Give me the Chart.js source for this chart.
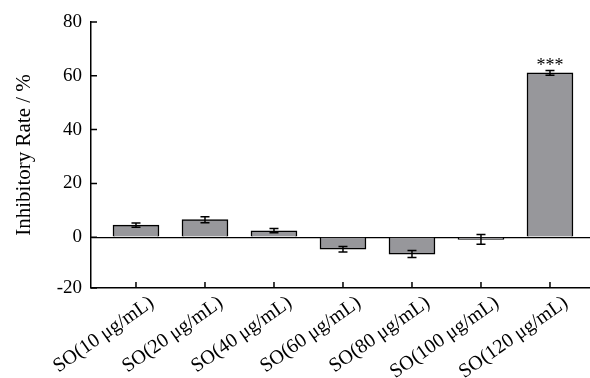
<!DOCTYPE html>
<html>
<head>
<meta charset="utf-8">
<script src="https://cdn.jsdelivr.net/npm/chart.js@4"></script>
<style>
  html, body { margin: 0; padding: 0; background: #fff; overflow: hidden; }
  canvas { display: block; }
</style>
</head>
<body>
<canvas id="inhibitionChart" width="590" height="378"></canvas>
<script>
// data
const categories = ['SO(10 μg/mL)', 'SO(20 μg/mL)', 'SO(40 μg/mL)', 'SO(60 μg/mL)', 'SO(80 μg/mL)', 'SO(100 μg/mL)', 'SO(120 μg/mL)'];
const meanRates = [4.5, 6.5, 2.4, -4.5, -6.3, -0.8, 61.1];
const errorRates = [0.8, 1.1, 0.8, 1.0, 1.3, 1.8, 0.9];
const significance = ['', '', '', '', '', '', '***'];
const yTickValues = [-20, 0, 20, 40, 60, 80];
// the bottom axis in the figure sits a little above -20; its label is kept at the axis
const yAxisMin = -18.9;
const yAxisMax = 80;

const FONT = 'Liberation Serif';

// error bars, significance stars and inward tick marks
const extrasPlugin = {
    id: 'extras',
    afterDatasetsDraw(chart) {
        const ctx = chart.ctx;
        const x = chart.scales.x;
        const y = chart.scales.y;
        const area = chart.chartArea;

        ctx.save();
        ctx.strokeStyle = '#000';
        ctx.lineWidth = 1.5;

        // error bars
        for (let i = 0; i < meanRates.length; i++) {
            const px = x.getPixelForValue(i + 1);
            const hi = y.getPixelForValue(meanRates[i] + errorRates[i]);
            const lo = y.getPixelForValue(meanRates[i] - errorRates[i]);
            ctx.beginPath();
            ctx.moveTo(px, hi);
            ctx.lineTo(px, lo);
            ctx.moveTo(px - 4.5, hi);
            ctx.lineTo(px + 4.5, hi);
            ctx.moveTo(px - 4.5, lo);
            ctx.lineTo(px + 4.5, lo);
            ctx.stroke();

            if (significance[i]) {
                ctx.fillStyle = '#000';
                ctx.font = '18px "' + FONT + '"';
                ctx.textAlign = 'center';
                ctx.textBaseline = 'alphabetic';
                ctx.fillText(significance[i], px, hi + 1);
            }
        }

        // tick marks pointing into the plot
        ctx.beginPath();
        y.ticks.forEach(function (t) {
            const py = y.getPixelForValue(t.value);
            ctx.moveTo(area.left, py);
            ctx.lineTo(area.left + 6, py);
        });
        for (let i = 0; i < categories.length; i++) {
            const px = x.getPixelForValue(i + 1);
            ctx.moveTo(px, area.bottom);
            ctx.lineTo(px, area.bottom - 6);
        }
        ctx.stroke();
        ctx.restore();
    }
};

const ctx = document.getElementById('inhibitionChart').getContext('2d');
new Chart(ctx, {
    type: 'bar',
    data: {
        datasets: [{
            data: meanRates.map(function (v, i) { return { x: i + 1, y: v }; }),
            backgroundColor: '#97979b',
            borderColor: '#000',
            borderWidth: 1.5,
            borderSkipped: 'start',
            barThickness: 46
        }]
    },
    options: {
        responsive: false,
        animation: false,
        devicePixelRatio: 1,
        layout: {
            padding: { top: 22, right: 0, left: 0, bottom: 0 }
        },
        plugins: {
            legend: { display: false },
            tooltip: { enabled: false }
        },
        scales: {
            x: {
                type: 'linear',
                offset: false,
                min: 0.348,
                max: 7.58,
                afterBuildTicks: function (scale) {
                    scale.ticks = categories.map(function (c, i) { return { value: i + 1 }; });
                },
                afterFit: function (scale) {
                    scale.height = 90;
                    scale.paddingLeft = 0;
                    scale.paddingRight = 0;
                },
                grid: { display: false, drawTicks: false },
                border: { display: true, color: '#000', width: 1.5 },
                ticks: {
                    autoSkip: false,
                    minRotation: 35,
                    maxRotation: 35,
                    labelOffset: 16,
                    padding: 3,
                    color: '#000',
                    font: { family: FONT, size: 20 },
                    callback: function (value) {
                        return categories[value - 1];
                    }
                }
            },
            y: {
                min: yAxisMin,
                max: yAxisMax,
                afterBuildTicks: function (scale) {
                    scale.ticks = yTickValues.map(function (v) { return { value: Math.max(v, yAxisMin) }; });
                },
                afterFit: function (scale) {
                    scale.width = 91;
                },
                grid: {
                    drawTicks: false,
                    lineWidth: 1.3,
                    color: function (c) {
                        return c.tick && c.tick.value === 0 ? '#000' : 'rgba(0,0,0,0)';
                    }
                },
                border: { display: true, color: '#000', width: 1.5 },
                ticks: {
                    padding: 9,
                    color: '#000',
                    font: { family: FONT, size: 19 },
                    callback: function (value, index) {
                        return String(yTickValues[index]);
                    }
                },
                title: {
                    display: true,
                    text: 'Inhibitory Rate / %',
                    color: '#000',
                    padding: { top: 12, bottom: 0 },
                    font: { family: FONT, size: 21 }
                }
            }
        }
    },
    plugins: [extrasPlugin]
});
</script>
</body>
</html>
